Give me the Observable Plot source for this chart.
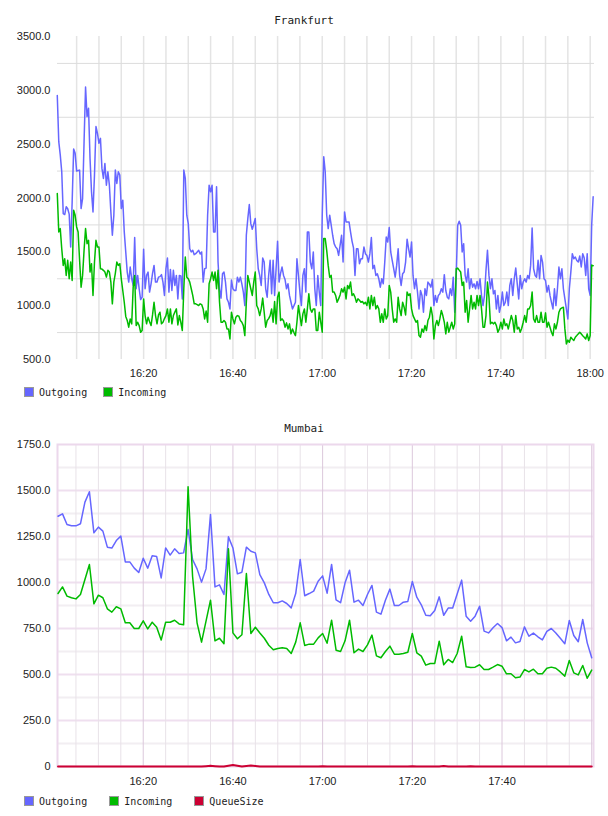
<!DOCTYPE html>
<html>
<head>
<meta charset="utf-8">
<script src="https://cdn.jsdelivr.net/npm/d3@7"></script>
<script src="https://cdn.jsdelivr.net/npm/@observablehq/plot@0.6"></script>
<style>
  body { margin: 0; background: #fff; }
  #page { position: relative; width: 608px; height: 816px; overflow: hidden; }
  .title { position: absolute; left: 0; width: 608px; text-align: center; font: 11px "DejaVu Sans Mono", monospace; color: #222; line-height: 14px; }
  .legend { position: absolute; left: 24px; height: 10px; display: flex; align-items: center; font: 10px "DejaVu Sans Mono", monospace; color: #222; }
  .legend .item { display: flex; align-items: center; }
  .legend .sw { width: 8px; height: 8px; border: 1px solid #999; margin-right: 5px; }
  .chart { position: absolute; left: 0; }
</style>
</head>
<body>
<div id="page">
  <div class="title" style="top:14px">Frankfurt</div>
  <div class="chart" id="fra" style="top:0px"></div>
  <div class="legend" id="fraLegend" style="top:387px"></div>
  <div class="title" style="top:422px">Mumbai</div>
  <div class="chart" id="bom" style="top:408px"></div>
  <div class="legend" id="bomLegend" style="top:796px"></div>
</div>
<script>
// ---- Frankfurt: samples every 20 seconds starting 16:00:40 ----
const fraStart = "16:00:40";
const fraStepSeconds = 20;
const fraOutgoing = [
  2952,2523,2400,2244,1855,1846,1918,1900,1850,1545,1964,2455,2415,2250,2255,2259,1902,1995,2523,3030,
  2756,2834,2368,2057,1871,2213,2663,2601,2508,2554,2275,2182,2321,2119,2244,2119,1871,1654,1840,2259,
  2135,2244,2213,1902,1980,1685,1499,1312,1219,1359,1250,1188,1632,1157,1281,1157,1057,1079,1523,1157,
  1281,1312,1126,1203,1300,1374,1219,1219,1265,1270,1288,1219,1095,1343,1442,1126,1337,1141,1328,1188,
  1281,1063,1281,1275,1063,2259,2182,1840,1762,1529,1499,1514,1474,1483,1499,1514,1480,1499,1219,1343,
  1349,1840,2119,2057,2119,1685,1685,2104,1405,1157,1070,1296,1312,1219,1063,1032,970,1238,1157,1141,
  1141,1265,1219,1265,1203,1126,1001,1654,1809,1939,1762,1709,1760,1809,1529,1343,1281,1188,1442,1405,
  1157,1079,1281,1421,1110,1421,1095,1343,1598,1219,1300,1359,1281,1244,1157,1203,1095,1032,970,1000,
  1032,1436,1281,1126,1001,1281,1343,1126,1685,1685,1405,1343,1499,1157,1001,1281,1126,1001,1840,2384,
  2244,1840,1716,1840,1750,1654,1576,1545,1529,1467,1561,1654,1405,1871,1778,1778,1778,1685,1600,1536,
  1281,1529,1529,1390,1436,1436,1545,1483,1467,1405,1483,1632,1343,1374,1281,1296,1250,1172,1250,1203,
  1405,1638,1592,1725,1499,1420,1343,1265,1374,1529,1281,1188,1296,1312,1405,1617,1529,1452,1592,1281,
  1157,1250,1126,970,1141,1095,939,1157,1095,1219,1200,1172,1244,1001,1095,1032,1095,1110,1157,1126,
  1288,1141,1079,1063,1157,1095,1265,939,1281,1747,1784,1747,1499,1576,1281,1219,1343,1157,1250,1172,
  1203,1157,1225,1157,1250,1095,1001,1095,1328,1514,1281,1157,1250,1110,1141,970,1095,939,1001,1126,
  1001,1032,1126,1001,1188,1250,1095,1250,1349,1203,1063,1281,1157,1220,1250,1219,1281,1250,1374,1722,
  1343,1281,1265,1421,1250,1467,1405,1250,1234,1126,1188,1095,1030,970,1157,1001,1157,1359,1250,1343,
  1157,1063,970,877,1157,1312,1483,1436,1452,1420,1405,1461,1359,1483,1442,1281,1483,1157,1095,1747,
  2011
];
const fraIncoming = [
  2042,1685,1716,1529,1374,1436,1281,1421,1250,1405,1234,1886,1840,1731,1685,1421,1172,1281,1514,1716,
  1576,1607,1312,1390,1095,1405,1607,1545,1545,1343,1340,1328,1312,1265,1328,1312,1219,1017,1219,1300,
  1405,1374,1390,1250,1141,1032,900,862,800,877,831,1172,1281,815,846,815,753,769,1063,908,
  831,893,850,815,914,1032,908,831,914,939,831,846,880,908,970,846,970,831,908,940,
  970,821,908,846,769,1157,1452,1265,1250,1219,1157,1095,1017,1017,1010,1001,1017,1010,970,877,
  950,846,1203,1250,1312,1234,1312,1157,1328,1032,846,846,862,846,784,784,691,939,877,831,
  893,908,902,862,846,815,722,1032,1281,1219,1157,1095,1219,1312,1001,970,908,970,1070,939,
  800,862,880,908,970,846,1039,831,1079,1126,862,877,860,800,840,784,831,738,784,750,
  722,846,1001,908,815,924,970,846,970,1110,970,939,970,970,769,769,939,846,753,1623,
  1623,1514,1374,1265,1281,1126,1126,1095,1032,1063,1100,1157,1126,1172,1063,1188,1157,1219,1095,1110,
  1079,1032,1063,1050,1032,1039,1017,1032,1001,1079,970,1095,1001,1079,970,1001,970,846,924,846,
  970,877,908,1188,1126,970,846,877,846,1079,970,908,1032,986,914,1126,1095,1110,970,908,
  877,846,862,722,707,784,753,815,769,862,893,986,908,691,815,862,815,877,955,908,
  846,738,846,753,800,846,784,831,1343,1349,1330,1312,1188,1219,939,1048,846,970,1095,970,
  1032,970,1095,1001,1095,970,800,800,908,1219,1079,831,846,831,846,815,753,784,846,784,
  877,815,831,784,846,908,862,753,908,784,800,753,790,846,908,846,970,970,1001,1126,
  877,846,908,846,846,939,846,846,933,800,846,800,753,722,831,784,846,939,970,980,
  986,784,645,680,660,707,690,676,707,722,738,753,738,720,707,691,738,676,722,1377,
  1371
];
const fraDomain = ["16:00:43", "18:00:58"];
const fraTimeTicks = ["16:20", "16:40", "17:00", "17:20", "17:40", "18:00"];
const fraValueTicks = [500, 1000, 1500, 2000, 2500, 3000, 3500];
const fraGridValues = [750, 1250, 1750, 2250, 2750, 3250];

// ---- Mumbai: one sample per minute, 16:01 to 18:00 ----
const bomStart = "16:01:00";
const bomStepSeconds = 60;
const bomOutgoing = [
  1360,1373,1315,1308,1308,1319,1437,1493,1270,1301,
  1279,1192,1187,1228,1252,1112,1112,1078,1054,1132,
  1078,1145,1141,1025,1188,1149,1183,1158,1161,1288,
  1125,1074,1002,1074,1370,976,987,935,1248,1188,
  1047,1056,1192,1170,1161,1043,998,935,890,890,
  900,886,862,940,1125,928,940,953,1007,1036,
  942,1098,906,890,998,1067,893,904,875,935,
  984,839,828,904,964,875,875,893,897,1005,
  920,879,822,819,848,922,822,861,861,937,
  1013,817,790,817,871,736,726,754,777,755,
  683,703,672,679,759,708,725,705,688,734,
  750,726,697,667,793,712,678,799,672,591
];
const bomIncoming = [
  940,976,926,917,911,935,1016,1098,884,931,
  917,857,839,868,857,781,781,750,750,792,
  748,784,757,687,784,784,795,775,770,1520,
  1034,781,676,790,904,683,697,667,1183,726,
  694,716,1049,723,757,726,697,659,634,641,
  645,641,614,676,781,658,665,665,699,723,
  670,795,632,625,683,795,618,638,625,661,
  714,601,591,625,654,610,610,614,621,723,
  618,600,551,560,560,681,553,582,565,614,
  708,542,538,540,553,527,527,540,554,545,
  504,504,482,486,527,514,529,504,504,534,
  540,534,514,491,576,509,498,549,480,524
];
const bomQueueSize = [
  0,0,0,0,0,0,0,0,0,0,
  0,0,0,0,0,0,0,0,0,0,
  0,0,0,0,0,0,0,0,0,0,
  0,0,0,2,4,2,0,0,4,8,
  4,0,3,5,3,0,0,0,0,0,
  0,0,0,0,0,0,0,0,0,2,
  0,0,0,0,0,0,0,0,0,0,
  0,0,0,0,0,0,0,0,0,2,
  0,0,0,0,0,0,3,0,0,0,
  0,0,2,0,0,0,0,0,0,0,
  0,0,0,0,0,0,0,0,0,0,
  0,0,0,0,0,0,0,0,0,0
];
const bomDomain = ["16:00:53", "18:00:24"];
const bomTimeTicks = ["16:20", "16:40", "17:00", "17:20", "17:40"];
const bomValueTicks = [0, 250, 500, 750, 1000, 1250, 1500, 1750];
const bomMinorValues = [125, 375, 625, 875, 1125, 1375, 1625];

const seriesNames = ["Outgoing", "Incoming", "QueueSize"];
const seriesColors = ["#6666ff", "#00bb00", "#cc0033"];

// ---- helpers ----
const DAY = Date.UTC(2020, 0, 1);
function at(hms) {
  const [h, m, s = 0] = hms.split(":").map(Number);
  return new Date(DAY + (h * 3600 + m * 60 + s) * 1000);
}
function rows(values, start, step) {
  const t0 = +at(start);
  return values.map((v, i) => ({time: new Date(t0 + i * step * 1000), value: v}));
}
const hhmm = d3.utcFormat("%H:%M");
const axisStyle = {
  fontFamily: "'Liberation Sans', Arial, sans-serif",
  fontSize: "11px",
  color: "#222",
  background: "transparent",
  overflow: "visible"
};

function legend(el, names, gap) {
  const root = document.getElementById(el);
  names.forEach((name, i) => {
    const item = document.createElement("div");
    item.className = "item";
    if (i < names.length - 1) item.style.marginRight = gap + "px";
    const sw = document.createElement("div");
    sw.className = "sw";
    sw.style.background = seriesColors[seriesNames.indexOf(name)];
    const label = document.createElement("span");
    label.textContent = name;
    item.append(sw, label);
    root.append(item);
  });
}

// ---- Frankfurt chart ----
{
  const [x0, x1] = fraDomain.map(at);
  const grid5 = d3.utcMinute.every(5).range(x0, x1);
  const chart = Plot.plot({
    width: 608, height: 385,
    marginTop: 36, marginBottom: 26, marginLeft: 57, marginRight: 14,
    style: axisStyle,
    x: {type: "utc", domain: [x0, x1], ticks: fraTimeTicks.map(at), tickFormat: hhmm, tickSize: 0, tickPadding: 10, label: null},
    y: {domain: [500, 3500], ticks: fraValueTicks, tickFormat: d => d.toFixed(1), tickSize: 0, tickPadding: 7, label: null},
    marks: [
      Plot.ruleX(grid5, {stroke: "#e4e4e4", strokeWidth: 1.5}),
      Plot.ruleY(fraGridValues, {stroke: "#dcdcdc", strokeWidth: 1}),
      Plot.line(rows(fraOutgoing, fraStart, fraStepSeconds), {x: "time", y: "value", stroke: seriesColors[0], strokeWidth: 1.5}),
      Plot.line(rows(fraIncoming, fraStart, fraStepSeconds), {x: "time", y: "value", stroke: seriesColors[1], strokeWidth: 1.5})
    ]
  });
  document.getElementById("fra").append(chart);
  legend("fraLegend", ["Outgoing", "Incoming"], 16);
}

// ---- Mumbai chart ----
{
  const [x0, x1] = bomDomain.map(at);
  const all5 = d3.utcMinute.every(5).range(x0, x1);
  const major = all5.filter(d => d.getUTCMinutes() % 20 === 0);
  const minor = all5.filter(d => d.getUTCMinutes() % 20 !== 0);
  const chart = Plot.plot({
    width: 608, height: 384,
    marginTop: 36, marginBottom: 26, marginLeft: 57, marginRight: 15,
    style: axisStyle,
    x: {type: "utc", domain: [x0, x1], ticks: bomTimeTicks.map(at), tickFormat: hhmm, tickSize: 0, tickPadding: 11, label: null},
    y: {domain: [0, 1750], ticks: bomValueTicks, tickFormat: d => d === 0 ? "0" : d.toFixed(1), tickSize: 0, tickPadding: 7, label: null},
    marks: [
      Plot.ruleY(bomMinorValues, {stroke: "#f2eef2", strokeWidth: 2}),
      Plot.ruleY(bomValueTicks.filter(v => v > 0 && v < 1750), {stroke: "#efdfef", strokeWidth: 2}),
      Plot.ruleX(minor, {stroke: "#e8e2e8", strokeWidth: 1}),
      Plot.ruleX(major, {stroke: "#dcc8dc", strokeWidth: 1}),
      Plot.frame({stroke: "#ecd8ec", strokeWidth: 2}),
      Plot.line(rows(bomOutgoing, bomStart, bomStepSeconds), {x: "time", y: "value", stroke: seriesColors[0], strokeWidth: 1.5}),
      Plot.line(rows(bomIncoming, bomStart, bomStepSeconds), {x: "time", y: "value", stroke: seriesColors[1], strokeWidth: 1.5}),
      Plot.line(rows(bomQueueSize, bomStart, bomStepSeconds), {x: "time", y: "value", stroke: seriesColors[2], strokeWidth: 2})
    ]
  });
  document.getElementById("bom").append(chart);
  legend("bomLegend", ["Outgoing", "Incoming", "QueueSize"], 22);
}
</script>
</body>
</html>
